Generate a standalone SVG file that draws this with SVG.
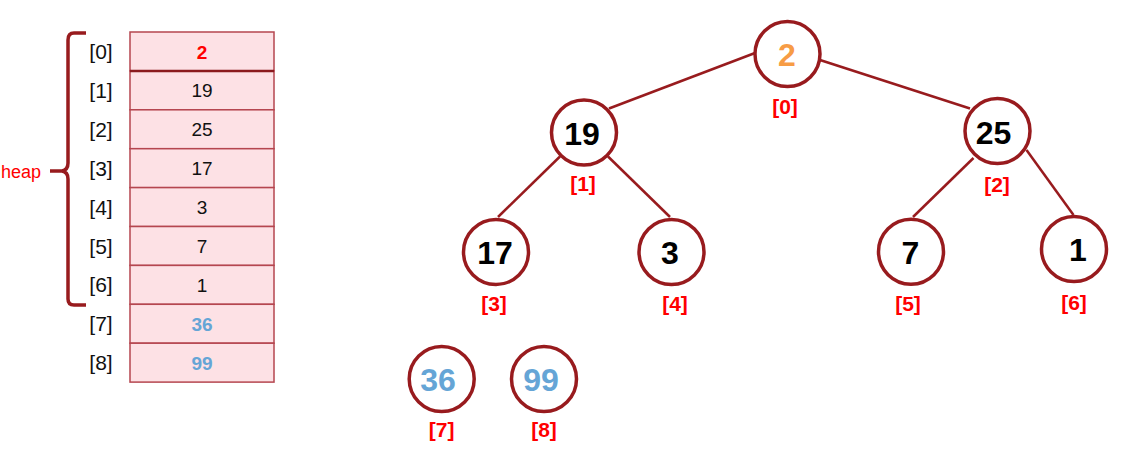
<svg xmlns="http://www.w3.org/2000/svg" width="1143" height="449" viewBox="0 0 1143 449">
<style>
.cell{fill:#FDE1E5;stroke:#B5464F;stroke-width:1.5}
.idx{font-family:"Liberation Sans",Arial,sans-serif;font-size:21px;fill:#111;text-anchor:middle}
.val{font-family:"Liberation Sans",Arial,sans-serif;font-size:19px;fill:#111;text-anchor:middle}
.bold{font-weight:bold}
.red{fill:#FF0000}
.blue{fill:#65A5D6}
.node circle{fill:#fff;stroke:#981B1E;stroke-width:3.5}
.ntxt{font-family:"Liberation Sans",Arial,sans-serif;font-size:32px;font-weight:bold;fill:#000;text-anchor:middle}
.lbl{font-family:"Liberation Sans",Arial,sans-serif;font-size:21px;font-weight:bold;fill:#FF0000;text-anchor:middle}
.edge{stroke:#981B1E;stroke-width:2.5;fill:none}
</style>
<rect width="1143" height="449" fill="#fff"/>
<g id="array">
<rect class="cell" x="130" y="32" width="144" height="38.9"/>
<rect class="cell" x="130" y="70.9" width="144" height="38.9"/>
<rect class="cell" x="130" y="109.8" width="144" height="38.9"/>
<rect class="cell" x="130" y="148.7" width="144" height="38.9"/>
<rect class="cell" x="130" y="187.6" width="144" height="38.9"/>
<rect class="cell" x="130" y="226.5" width="144" height="38.9"/>
<rect class="cell" x="130" y="265.4" width="144" height="38.9"/>
<rect class="cell" x="130" y="304.3" width="144" height="38.9"/>
<rect class="cell" x="130" y="343.2" width="144" height="38.9"/>
<line x1="130" y1="70.9" x2="274" y2="70.9" stroke="#8B1A1E" stroke-width="2.5"/>
<text class="idx" x="101" y="59">[0]</text>
<text class="idx" x="101" y="97.9">[1]</text>
<text class="idx" x="101" y="136.8">[2]</text>
<text class="idx" x="101" y="175.7">[3]</text>
<text class="idx" x="101" y="214.6">[4]</text>
<text class="idx" x="101" y="253.5">[5]</text>
<text class="idx" x="101" y="292.4">[6]</text>
<text class="idx" x="101" y="331.3">[7]</text>
<text class="idx" x="101" y="370.2">[8]</text>
<text class="val bold red" x="202" y="58.5">2</text>
<text class="val" x="202" y="97.4">19</text>
<text class="val" x="202" y="136.3">25</text>
<text class="val" x="202" y="175.2">17</text>
<text class="val" x="202" y="214.1">3</text>
<text class="val" x="202" y="253">7</text>
<text class="val" x="202" y="291.9">1</text>
<text class="val bold blue" x="202" y="330.8">36</text>
<text class="val bold blue" x="202" y="369.7">99</text>
</g>
<g id="brace">
<path d="M86,33 L74,33 Q68,33 68,40 L68,163 Q68,170 62,171 L50,171 M62,171 Q68,172 68,179 L68,299 Q68,305 74,305 L86,305" fill="none" stroke="#981B1E" stroke-width="3.5"/>
<text x="41" y="177.5" font-family="'Liberation Sans',Arial,sans-serif" font-size="18" fill="#FF0000" text-anchor="end">heap</text>
</g>
<g id="connectors">
<line class="edge" x1="755" y1="53" x2="609" y2="108.5"/>
<line class="edge" x1="820" y1="60" x2="970" y2="108.5"/>
<line class="edge" x1="560" y1="156.5" x2="498" y2="217"/>
<line class="edge" x1="608" y1="156.5" x2="670" y2="217"/>
<line class="edge" x1="973.5" y1="158" x2="913" y2="217"/>
<line class="edge" x1="1026.5" y1="150" x2="1073.5" y2="215"/>
</g>
<g id="n0" class="node"><circle cx="787.5" cy="54" r="32.5"/><text class="ntxt" x="787" y="65.5" style="fill:#F79C45">2</text><text class="lbl" x="785" y="114">[0]</text></g>
<g id="n1" class="node"><circle cx="584" cy="132.5" r="32.5"/><text class="ntxt" x="582" y="145">19</text><text class="lbl" x="583" y="191">[1]</text></g>
<g id="n2" class="node"><circle cx="997.5" cy="131" r="32.5"/><text class="ntxt" x="993.5" y="144">25</text><text class="lbl" x="997" y="191.5">[2]</text></g>
<g id="n3" class="node"><circle cx="496" cy="252" r="32.5"/><text class="ntxt" x="495" y="264">17</text><text class="lbl" x="494" y="310.5">[3]</text></g>
<g id="n4" class="node"><circle cx="671.5" cy="252" r="32.5"/><text class="ntxt" x="670" y="264">3</text><text class="lbl" x="675" y="310.5">[4]</text></g>
<g id="n5" class="node"><circle cx="911" cy="251.7" r="32.5"/><text class="ntxt" x="910.5" y="264">7</text><text class="lbl" x="908" y="310.5">[5]</text></g>
<g id="n6" class="node"><circle cx="1074" cy="249" r="32.5"/><text class="ntxt" x="1078" y="261">1</text><text class="lbl" x="1074" y="309.5">[6]</text></g>
<g id="n7" class="node"><circle cx="441.7" cy="379" r="32.5"/><text class="ntxt" x="438" y="391" style="fill:#65A5D6">36</text><text class="lbl" x="441.7" y="437">[7]</text></g>
<g id="n8" class="node"><circle cx="544" cy="379" r="32.5"/><text class="ntxt" x="541" y="391" style="fill:#65A5D6">99</text><text class="lbl" x="544" y="437">[8]</text></g>
</svg>
